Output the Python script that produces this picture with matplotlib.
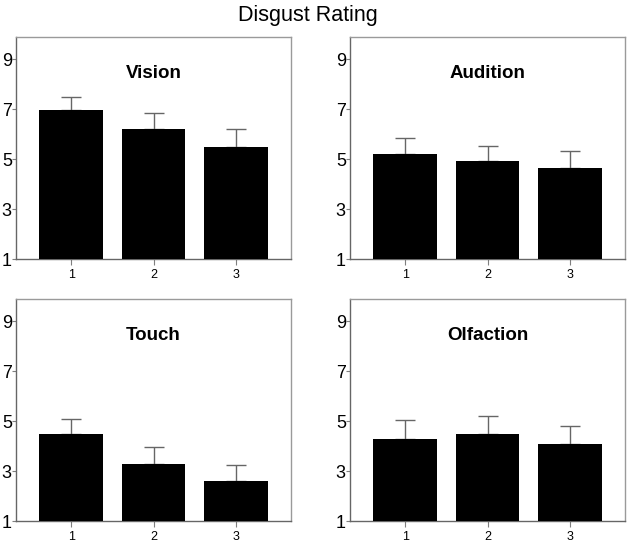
import matplotlib.pyplot as plt

plt.rcParams['font.family'] = ['Liberation Sans', 'DejaVu Sans']

conditions = ['1', '2', '3']
panels = ['Vision', 'Audition', 'Touch', 'Olfaction']

vision = [6.95, 6.21, 5.47]
vision_err = [0.52, 0.64, 0.74]
audition = [5.21, 4.91, 4.63]
audition_err = [0.62, 0.62, 0.69]
touch = [4.49, 3.28, 2.60]
touch_err = [0.60, 0.69, 0.64]
olfaction = [4.29, 4.47, 4.08]
olfaction_err = [0.74, 0.72, 0.73]

means = [vision, audition, touch, olfaction]
errs = [vision_err, audition_err, touch_err, olfaction_err]

W, H = 630, 542
fig = plt.figure(figsize=(W / 100, H / 100), dpi=100)

# axes boxes in pixels: left, top, right, bottom
boxes = [(16, 37, 291, 259), (350, 37, 625, 259),
         (16, 299, 291, 521), (350, 299, 625, 521)]

grey = '#7f7f7f'
x = [1, 2, 3]

for (l, t, r, b), name, m, e in zip(boxes, panels, means, errs):
    ax = fig.add_axes([l / W, 1 - b / H, (r - l) / W, (b - t) / H])
    ax.bar(x, [v - 1 for v in m], bottom=1, width=0.77, color='black',
           zorder=3)
    ax.errorbar(x, m, yerr=[[0] * 3, e], fmt='none', ecolor='#666666',
                elinewidth=1, capsize=7, capthick=1, zorder=2)
    ax.set_xlim(0.33, 3.67)
    ax.set_ylim(1, 9.88)
    ax.set_yticks([1, 3, 5, 7, 9])
    ax.set_xticks(x)
    ax.set_xticklabels(conditions, fontsize=9)
    ax.tick_params(axis='y', labelsize=13, length=3, width=0.8,
                   color=grey, pad=0)
    ax.tick_params(axis='x', length=4, width=0.8, color=grey, pad=3)
    for s in ax.spines.values():
        s.set_color('#9a9a9a')
        s.set_linewidth(1)
    ax.spines['left'].set_color('#666666')
    ax.spines['bottom'].set_color('#666666')
    ax.text(0.5, 0.835, name, transform=ax.transAxes, ha='center',
            va='center', fontsize=13.5, fontweight='bold')

fig.text(308 / W, 1 - 21 / H, 'Disgust Rating', ha='center',
         va='baseline', fontsize=15.5)

fig.savefig('out.png', dpi=100)
